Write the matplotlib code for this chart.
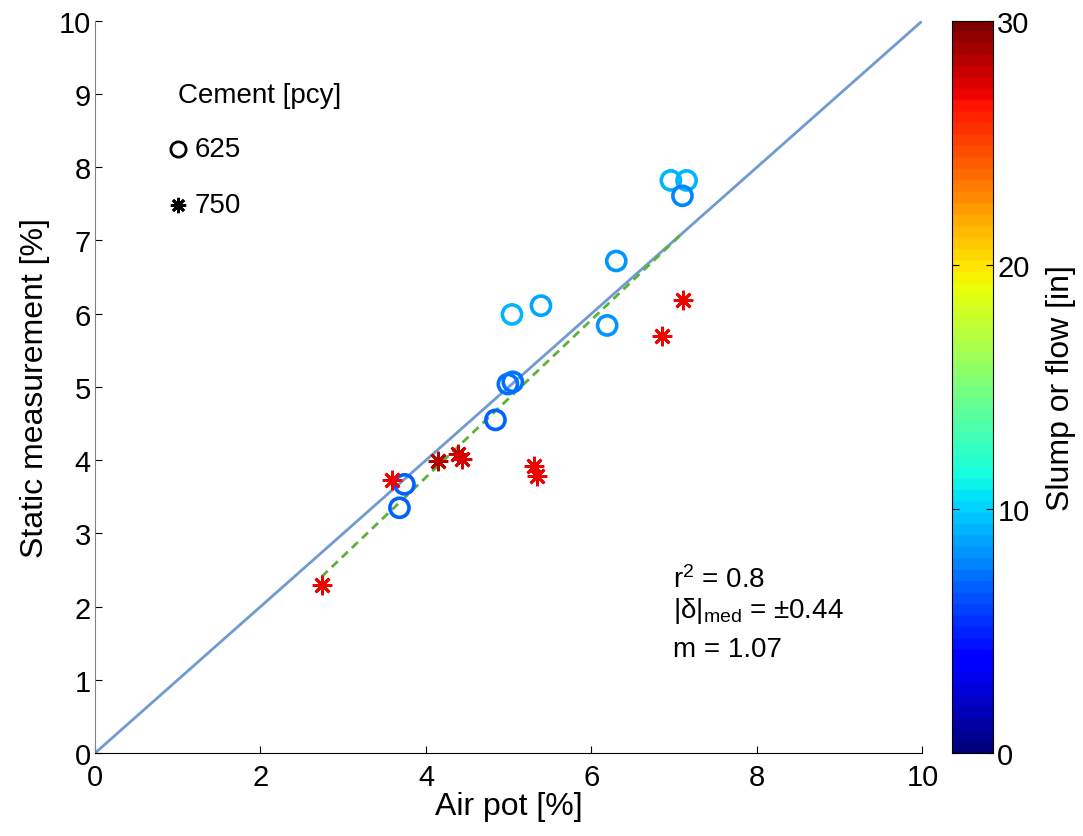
import numpy as np
import matplotlib.pyplot as plt
from matplotlib.colors import ListedColormap

plt.rcParams['font.family'] = ['Liberation Sans', 'DejaVu Sans']

# 625 pcy mixes (circles)
air_625 = [6.96, 7.15, 7.10, 6.30, 5.39, 5.04, 6.19, 4.99, 5.05, 4.84, 3.74, 3.68]
static_625 = [7.82, 7.82, 7.61, 6.72, 6.11, 5.99, 5.84, 5.04, 5.07, 4.55, 3.67, 3.35]
slump_625 = [9.2, 9.2, 7.8, 8.3, 8.8, 9.3, 8.3, 7.3, 7.3, 7.0, 6.8, 6.8]

# 750 pcy mixes (stars)
air_750 = [2.74, 3.59, 4.14, 4.39, 4.44, 5.30, 5.34, 7.11, 6.85]
static_750 = [2.30, 3.73, 3.99, 4.08, 4.01, 3.92, 3.79, 6.19, 5.69]
slump_750 = [27.0, 27.0, 28.3, 28.0, 27.3, 27.0, 27.0, 27.0, 27.0]

# fitted line
fit_x = [2.74, 5.10, 7.12]
fit_y = [2.41, 4.95, 7.12]

cmap = ListedColormap(plt.get_cmap('jet')(np.linspace(0, 1, 64)))

fig = plt.figure(figsize=(10.83, 8.37), dpi=100)
ax = fig.add_axes([0.0877, 0.099, 0.764, 0.875])
cax = fig.add_axes([0.879, 0.099, 0.038, 0.875])

ax.plot([0, 10], [0, 10], color='#6f9bd1', lw=2, zorder=1)
ax.plot(fit_x, fit_y, color='#5fb03a', lw=2, ls=(0, (3, 2)), zorder=2)

c1 = cmap(np.array(slump_625) / 30)
ax.scatter(air_625, static_625, s=190, facecolors='none', edgecolors=c1, linewidths=2.6, zorder=3)
c2 = cmap(np.array(slump_750) / 30)
for x, y, c in zip(air_750, static_750, c2):
    ax.plot(x, y, marker=(8, 2, 0), ms=14, mew=2.0, color=c, ls='none', zorder=3)

# legend drawn by hand
ax.text(1.0, 8.98, 'Cement [pcy]', fontsize=20, va='center', ha='left')
ax.plot(1.0, 8.25, 'o', mfc='none', mec='k', ms=11, mew=2)
ax.text(1.2, 8.25, '625', fontsize=20, va='center')
ax.plot(1.0, 7.48, marker=(8, 2, 0), color='k', ms=11, mew=2)
ax.text(1.2, 7.48, '750', fontsize=20, va='center')

ax.text(6.98, 2.38, '$\\mathregular{r^2}$ = 0.8', fontsize=20, va='center')
ax.text(6.98, 1.95, '$\\mathregular{|\\delta|_{med}}$ = $\\mathregular{\\pm}$0.44', fontsize=20, va='center')
ax.text(6.98, 1.42, 'm = 1.07', fontsize=20, va='center')

ax.set_xlim(0, 10)
ax.set_ylim(0, 10)
ax.set_xticks([0, 2, 4, 6, 8, 10])
ax.set_yticks(range(11))
ax.tick_params(direction='in', labelsize=21, length=5)
ax.tick_params(axis='x', pad=7)
ax.tick_params(axis='y', pad=3)
ax.spines['top'].set_visible(False)
ax.spines['right'].set_visible(False)
ax.spines['left'].set_color('#808080')
ax.set_xlabel('Air pot [%]', fontsize=23, labelpad=0)
ax.set_ylabel('Static measurement [%]', fontsize=23, labelpad=6)

grad = np.linspace(0, 30, 256).reshape(-1, 1)
cax.imshow(grad, aspect='auto', cmap=cmap, origin='lower', extent=[0, 1, 0, 30], vmin=0, vmax=30)
cax.set_xticks([])
cax.yaxis.tick_right()
cax.set_yticks([0, 10, 20, 30])
cax.tick_params(axis='y', direction='in', labelsize=21, length=5, right=True, left=True, pad=3)
cax.yaxis.set_label_position('right')
cax.set_ylabel('Slump or flow [in]', fontsize=23, labelpad=12)

fig.savefig('out.png', dpi=100)
